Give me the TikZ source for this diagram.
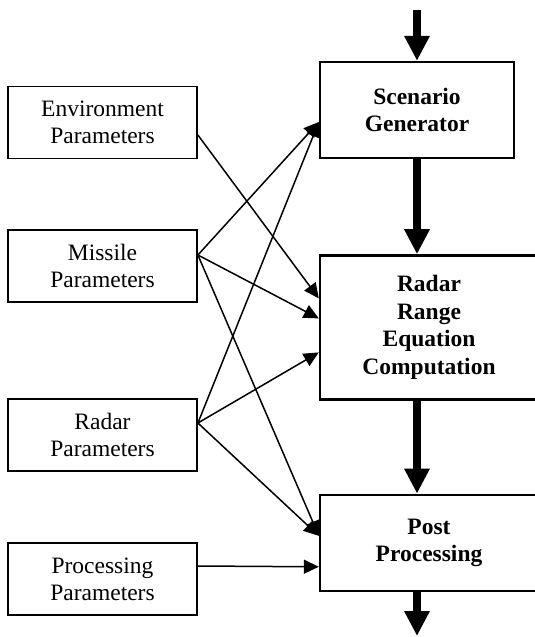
\documentclass[tikz,border=0pt]{standalone}
\usepackage{fontspec}
\setmainfont{Liberation Serif}
\usetikzlibrary{arrows.meta,positioning}

\begin{document}
\begin{tikzpicture}[
    x=1pt, y=1pt,
    parbox/.style={rectangle, draw, line width=1.8pt, align=center, minimum width=189pt, minimum height=72pt, inner sep=0pt, font=\fontsize{23.5}{27}\selectfont},
    stagebox/.style={rectangle, draw, line width=2.4pt, align=center, minimum height=96pt, inner sep=0pt, font=\bfseries\fontsize{23.5}{27.5}\selectfont},
    arrow/.style={-{Triangle[length=15pt, width=14pt]}, line width=1.5pt},
    flow/.style={-{Triangle[length=25pt, width=24pt]}, line width=8pt}
]
\useasboundingbox (0,0) rectangle (535,-637);

% Parameter boxes
\node[parbox] (env) at (102.5,-122.5) {Environment\\Parameters};
\node[parbox, below=69.7pt of env] (mis) {Missile\\Parameters};
\node[parbox, below=95.2pt of mis] (rad) {Radar\\Parameters};
\node[parbox, below=70.2pt of rad] (proc) {Processing\\Parameters};

% Processing chain
\node[stagebox, minimum width=194pt] (scen) at (417,-110) {Scenario\\Generator};
\node[stagebox, minimum width=218pt, minimum height=144pt, below right=95pt and 0pt of scen.south west] (rre) {Radar\\Range\\Equation\\Computation};
\node[stagebox, minimum width=218pt, below right=93pt and 0pt of rre.south west] (post) {Post\\Processing};

% Chain input and output
\coordinate (in) at (417,-10);
\coordinate (out) at (417,-636);

% Main flow
\draw[flow] (in) -- (scen);
\draw[flow] (scen) -- (scen.south |- rre.north);
\draw[flow] (scen.south |- rre.south) -- (scen.south |- post.north);
\draw[flow] (scen.south |- post.south) -- (out);

% Parameter links
\draw[arrow] ([yshift=-12.5pt]env.east) -- ([yshift=29pt]rre.west);
\draw[arrow] ([yshift=11pt]mis.east) -- ([yshift=-12pt]scen.west);
\draw[arrow] ([yshift=11pt]mis.east) -- ([yshift=9pt]rre.west);
\draw[arrow] ([yshift=11pt]mis.east) -- ([yshift=7pt]post.west);
\draw[arrow] ([yshift=12pt]rad.east) -- ([yshift=-12pt]scen.west);
\draw[arrow] ([yshift=12pt]rad.east) -- ([yshift=-25pt]rre.west);
\draw[arrow] ([yshift=12pt]rad.east) -- ([yshift=7pt]post.west);
\draw[arrow] ([yshift=13pt]proc.east) -- ([yshift=-24pt]post.west);

\end{tikzpicture}
\end{document}
